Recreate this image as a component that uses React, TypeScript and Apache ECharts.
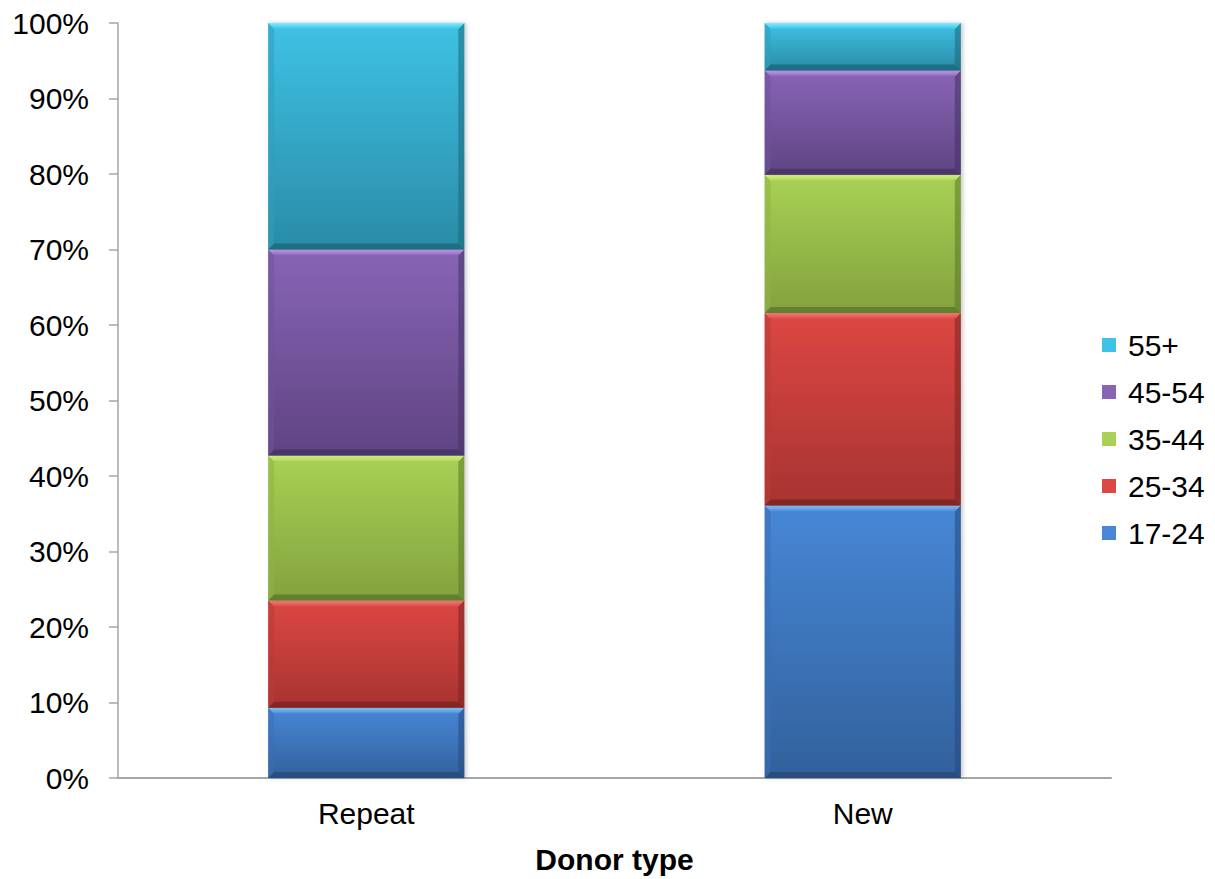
import React, { useEffect, useRef } from "react";
import * as echarts from "echarts";

// Donor categories on the x axis
const categories = ["Repeat", "New"];

// Age groups, bottom of the stack first
const ageGroups = ["17-24", "25-34", "35-44", "45-54", "55+"];

// Share of donors (%) in each age group, per donor type [Repeat, New]
const share17to24 = [9.3, 36.1];
const share25to34 = [14.2, 25.5];
const share35to44 = [19.2, 18.3];
const share45to54 = [27.3, 13.8];
const share55plus = [30.0, 6.3];

// Y axis tick values
const yTicks = [0, 10, 20, 30, 40, 50, 60, 70, 80, 90, 100];

const groupShares = [share17to24, share25to34, share35to44, share45to54, share55plus];

// Bevelled fill palette per age group
const palette = [
  { top: "#4787d6", bottom: "#32619c", light: "#8fd0ff", dark: "#27497a", side: "#3a6fb4" },
  { top: "#dc4743", bottom: "#a83331", light: "#ff8580", dark: "#792422", side: "#b93a37" },
  { top: "#a9d154", bottom: "#82a23e", light: "#e2ff8e", dark: "#5b772a", side: "#8fb246" },
  { top: "#8864b6", bottom: "#5f4482", light: "#cba4f5", dark: "#463262", side: "#71529a" },
  { top: "#3ec2e5", bottom: "#2a8ba6", light: "#80ecff", dark: "#1d6679", side: "#309fbe" },
];

const FONT = "'Liberation Sans', Arial, sans-serif";

function buildSeries() {
  const cumulative = categories.map(() => 0);
  return ageGroups.map((name, gi) => {
    const values = groupShares[gi];
    const data = categories.map((_, ci) => {
      const start = cumulative[ci];
      const end = start + values[ci];
      cumulative[ci] = end;
      return [ci, start, end];
    });
    const c = palette[gi];
    return {
      name,
      type: "custom",
      itemStyle: { color: c.top },
      encode: { x: 0, y: [1, 2] },
      data,
      renderItem: (_params: any, api: any) => {
        const cat = api.value(0);
        const p0 = api.coord([cat, api.value(1)]);
        const p1 = api.coord([cat, api.value(2)]);
        const band = api.size([1, 0])[0];
        const w = band * 0.395;
        const x0 = p0[0] - w / 2;
        const x1 = x0 + w;
        const yT = p1[1];
        const yB = p0[1];
        const h = yB - yT;
        const b = Math.min(6, h / 2);
        const vGrad = (a: string, z: string) =>
          new echarts.graphic.LinearGradient(0, 0, 0, 1, [
            { offset: 0, color: a },
            { offset: 1, color: z },
          ]);
        return {
          type: "group",
          children: [
            {
              type: "rect",
              shape: { x: x0, y: yT, width: w, height: h },
              style: {
                fill: vGrad(c.top, c.bottom),
                shadowBlur: 4,
                shadowOffsetX: 2,
                shadowColor: "rgba(0,0,0,0.22)",
              },
            },
            {
              type: "polygon",
              shape: { points: [[x0, yT], [x0 + b, yT + b], [x0 + b, yB - b], [x0, yB]] },
              style: { fill: c.side, opacity: 0.55 },
            },
            {
              type: "polygon",
              shape: { points: [[x1, yT], [x1 - b, yT + b], [x1 - b, yB - b], [x1, yB]] },
              style: { fill: c.dark, opacity: 0.55 },
            },
            {
              type: "polygon",
              shape: { points: [[x0, yB], [x1, yB], [x1 - b, yB - b], [x0 + b, yB - b]] },
              style: { fill: c.dark, opacity: 0.8 },
            },
            {
              type: "polygon",
              shape: { points: [[x0, yT], [x1, yT], [x1 - b, yT + b], [x0 + b, yT + b]] },
              style: { fill: vGrad(c.light, c.top) },
            },
          ],
        };
      },
    };
  });
}

export default function App() {
  const ref = useRef<HTMLDivElement>(null);

  useEffect(() => {
    if (!ref.current) return;
    const chart = echarts.init(ref.current, null, { renderer: "svg" });
    chart.setOption({
      animation: false,
      backgroundColor: "#ffffff",
      textStyle: { fontFamily: FONT },
      grid: { left: 118, right: 104, top: 23, bottom: 101, containLabel: false },
      legend: {
        orient: "vertical",
        left: 1102,
        top: 330,
        padding: 0,
        icon: "rect",
        itemWidth: 14,
        itemHeight: 14,
        itemGap: 17,
        data: [...ageGroups].reverse(),
        textStyle: { fontSize: 30, color: "#000", fontFamily: FONT, lineHeight: 30, padding: [0, 0, 0, 7] },
        selectedMode: false,
      },
      xAxis: {
        type: "category",
        data: categories,
        boundaryGap: true,
        axisLine: { show: true, lineStyle: { color: "#a6a6a6", width: 2 } },
        axisTick: { show: false },
        axisLabel: { fontSize: 30, color: "#000", margin: 20, fontFamily: FONT },
        name: "Donor type",
        nameLocation: "middle",
        nameGap: 66,
        nameTextStyle: { fontSize: 30, fontWeight: "bold", color: "#000", fontFamily: FONT },
      },
      yAxis: {
        type: "value",
        min: yTicks[0],
        max: yTicks[yTicks.length - 1],
        interval: yTicks[1] - yTicks[0],
        axisLine: { show: true, lineStyle: { color: "#a6a6a6", width: 1.5 } },
        axisTick: { show: true, length: 9, lineStyle: { color: "#a6a6a6", width: 1.5 } },
        splitLine: { show: false },
        axisLabel: { fontSize: 30, color: "#000", margin: 29, formatter: "{value}%", fontFamily: FONT },
      },
      series: buildSeries(),
    });
    return () => chart.dispose();
  }, []);

  return (
    <div
      ref={ref}
      style={{ position: "fixed", left: 0, top: 0, width: 1215, height: 879, background: "#fff" }}
    />
  );
}
